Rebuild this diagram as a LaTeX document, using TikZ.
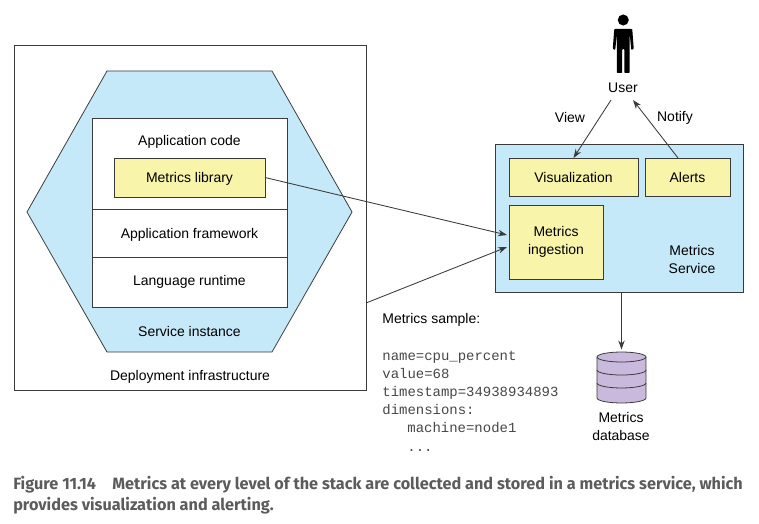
\documentclass[tikz,border=0pt]{standalone}
\usepackage{fontspec}
\setmainfont{Liberation Sans}
\setmonofont{Liberation Mono}
\newfontfamily\capfont[FakeStretch=0.995]{Fira Sans}
\usetikzlibrary{arrows.meta, positioning}
\definecolor{tier}{HTML}{C6E9F9}
\definecolor{part}{HTML}{F8F4AA}
\definecolor{store}{HTML}{C9B9DC}
\definecolor{edge}{HTML}{3A3A3A}
\definecolor{codetext}{HTML}{474747}
\definecolor{captext}{HTML}{5C5C5C}

\begin{document}
\begin{tikzpicture}[
    >={Stealth[length=2.4mm, width=1.7mm]},
    every node/.style={font=\fontsize{10.6}{13.7}\selectfont, text=black},
    box/.style={draw=edge, line width=0.6pt, inner sep=0pt, outer sep=0pt},
    layer/.style={box, fill=white, minimum width=5.2cm},
    part/.style={box, fill=part, align=center},
    oneline/.style={text height=7.6pt, text depth=0pt},
    lbl/.style={align=center, inner sep=0pt},
    flow/.style={->, edge, line width=0.65pt},
    dbpart/.style={draw=edge, line width=0.6pt}]
  \useasboundingbox (0,0) rectangle (20.24,-13.947);

  % Deployment infrastructure and the service hexagon.
  \node[box, fill=white, minimum width=9.387cm, minimum height=9.2cm] (infra) at (5.067,-5.8) {};
  \draw[edge, line width=0.6pt, fill=tier] (0.72,-5.653) -- (2.853,-1.893) -- (7.253,-1.893)
    -- (9.387,-5.653) -- (7.253,-9.387) -- (2.853,-9.387) -- cycle;

  % The stack inside the instance.
  \node[layer, minimum height=2.427cm] (app) at (5.053,-4.36) {};
  \node[layer, oneline, minimum height=1.28cm, below=0pt of app] (framework) {Application framework};
  \node[layer, minimum height=1.333cm, below=0pt of framework] (runtime) {Language runtime};
  \node[lbl] (appcode) at (5.053,-3.79) {Application code};
  \node[part, oneline, minimum width=4.027cm, minimum height=1.04cm] (lib) at (5.053,-4.733) {Metrics library};
  \node[lbl] (instance) at (5.053,-8.827) {Service instance};
  \node[lbl] (deploy) at (5.067,-10.05) {Deployment infrastructure};

  % The metrics service.
  \node[box, fill=tier, minimum width=6.613cm, minimum height=3.947cm] (service) at (16.507,-5.813) {};
  \node[part, oneline, minimum width=3.44cm, minimum height=1.013cm] (viz) at (15.293,-4.72) {Visualization};
  \node[part, oneline, minimum width=2.267cm, minimum height=1.013cm] (alerts) at (18.333,-4.72) {Alerts};
  \node[part, minimum width=2.507cm, minimum height=1.973cm] (ingest) at (14.827,-6.453) {Metrics\\ingestion};
  \node[lbl] (svclabel) at (18.453,-6.92) {Metrics\\Service};

  % The user.
  \fill[black] (16.62,-0.533) circle[radius=0.147];
  \fill[black, rounded corners=0.6pt] (16.38,-0.773) -- (16.34,-1.306) -- (16.407,-1.333) -- (16.447,-0.906)
    -- (16.447,-1.946) -- (16.593,-1.946) -- (16.593,-1.306) -- (16.647,-1.306) -- (16.647,-1.946)
    -- (16.793,-1.946) -- (16.793,-0.906) -- (16.833,-1.333) -- (16.9,-1.306) -- (16.86,-0.773) -- cycle;
  \node[lbl] (user) at (16.613,-2.34) {User};
  \node[lbl] (view) at (15.2,-3.14) {View};
  \node[lbl] (notify) at (18,-3.14) {Notify};

  % The database.
  \draw[dbpart, fill=store] (15.92,-9.52) arc[start angle=180, end angle=0, x radius=0.653, y radius=0.133]
    -- (17.227,-10.613) arc[start angle=0, end angle=-180, x radius=0.653, y radius=0.133] -- cycle;
  \foreach \y in {-9.52,-9.867,-10.213}
    \draw[dbpart] (15.92,\y) arc[start angle=180, end angle=360, x radius=0.653, y radius=0.133];
  \coordinate (db) at (16.573,-9.32);
  \node[lbl] (dblabel) at (16.56,-11.37) {Metrics\\database};

  % Sample.
  \node[lbl, anchor=west] (sample) at (10.19,-8.53) {Metrics sample:};
  \node[lbl, anchor=west, align=left, text=codetext] (code) at (10.19,-10.7)
    {\ttfamily name=cpu\_percent\\\ttfamily value=68\\\ttfamily timestamp=34938934893\\\ttfamily dimensions:\\
     \ttfamily\hspace*{19pt}machine=node1\\\ttfamily\hspace*{19pt}...};

  % Connectors.
  \coordinate (libin) at (13.52,-6.267);
  \coordinate (infraout) at (9.76,-8.08);
  \coordinate (infrain) at (13.52,-6.587);
  \coordinate (viewout) at (16.293,-2.667);
  \coordinate (alertout) at (18.08,-4.213);
  \coordinate (notifyin) at (16.88,-2.667);
  \draw[flow] (lib.east) -- (libin);
  \draw[flow] (infraout) -- (infrain);
  \draw[flow] (viewout) -- (viz.north);
  \draw[flow] (alertout) -- (notifyin);
  \draw[flow] (db |- service.south) -- (db);

  \node[anchor=west, align=left, inner sep=0pt, text=captext, font=\capfont\bfseries\fontsize{12.4}{15.9}\selectfont] (caption) at (0.347,-13.2)
    {Figure 11.14\hspace{1em}Metrics at every level of the stack are collected and stored in a metrics service, which\\provides visualization and alerting.};
\end{tikzpicture}
\end{document}
